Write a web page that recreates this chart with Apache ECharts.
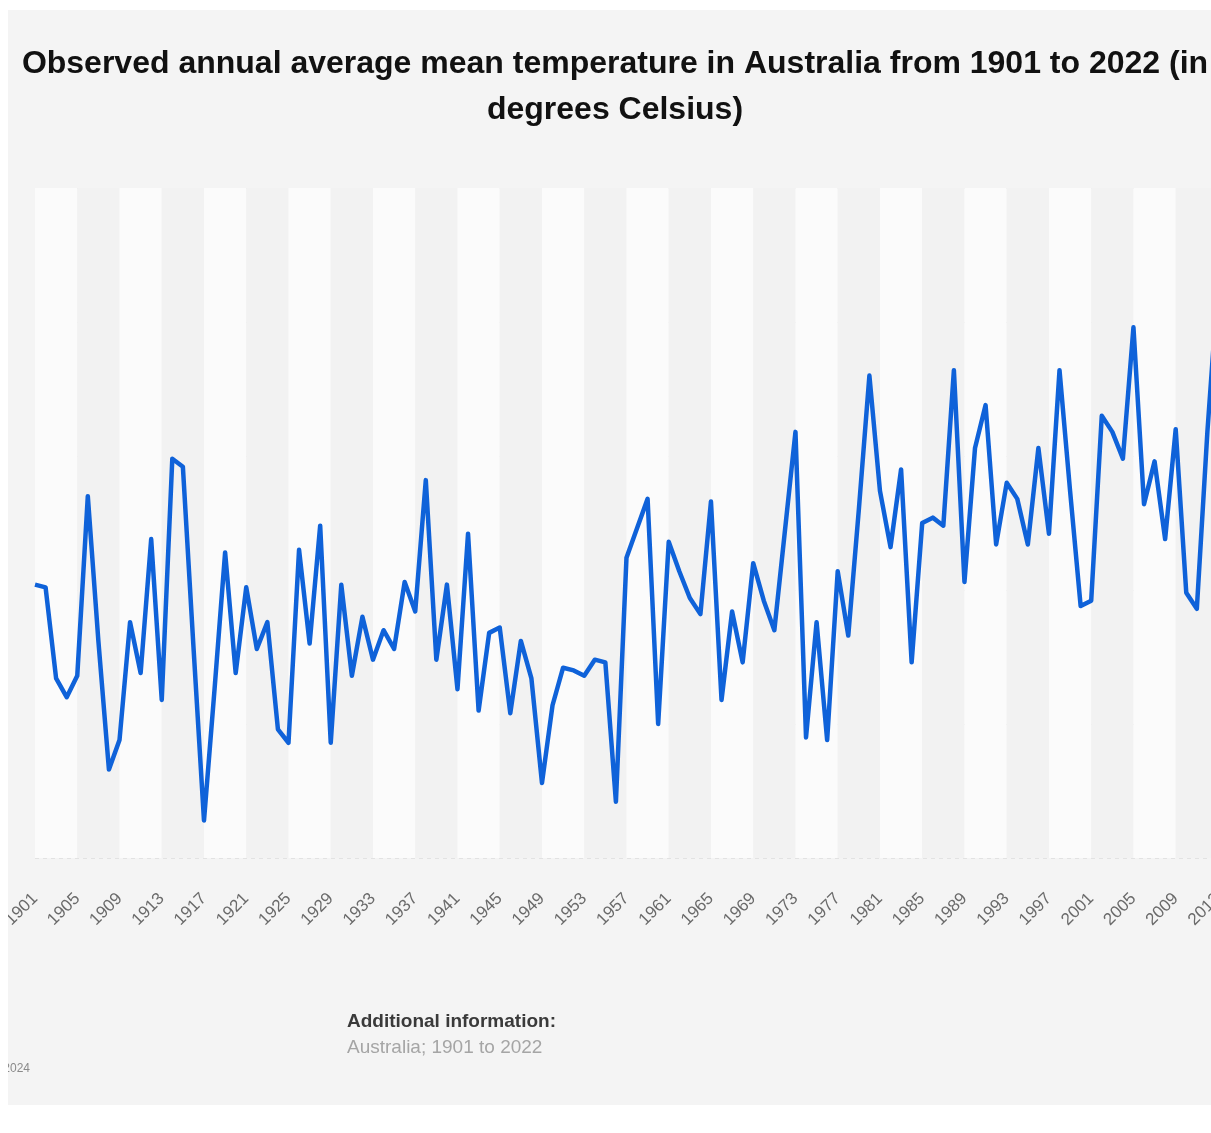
<!DOCTYPE html>
<html>
<head>
<meta charset="utf-8">
<title>Observed annual average mean temperature in Australia</title>
<script src="https://cdn.jsdelivr.net/npm/echarts@6/dist/echarts.min.js"></script>
<style>
html, body {
  margin: 0;
  padding: 0;
  width: 1211px;
  height: 1133px;
  overflow: hidden;
  background: #ffffff;
}
/* the chart is wider than the window, its right part is cut off like in the picture */
#chart {
  position: absolute;
  left: 8px;
  top: 10px;
  width: 1340px;
  height: 1095px;
  background: #f4f4f4;
}
</style>
</head>
<body>
<div id="chart"></div>
<script>
// x axis categories
const years = [
  "1901", "1902", "1903", "1904", "1905", "1906", "1907", "1908", "1909", "1910",
  "1911", "1912", "1913", "1914", "1915", "1916", "1917", "1918", "1919", "1920",
  "1921", "1922", "1923", "1924", "1925", "1926", "1927", "1928", "1929", "1930",
  "1931", "1932", "1933", "1934", "1935", "1936", "1937", "1938", "1939", "1940",
  "1941", "1942", "1943", "1944", "1945", "1946", "1947", "1948", "1949", "1950",
  "1951", "1952", "1953", "1954", "1955", "1956", "1957", "1958", "1959", "1960",
  "1961", "1962", "1963", "1964", "1965", "1966", "1967", "1968", "1969", "1970",
  "1971", "1972", "1973", "1974", "1975", "1976", "1977", "1978", "1979", "1980",
  "1981", "1982", "1983", "1984", "1985", "1986", "1987", "1988", "1989", "1990",
  "1991", "1992", "1993", "1994", "1995", "1996", "1997", "1998", "1999", "2000",
  "2001", "2002", "2003", "2004", "2005", "2006", "2007", "2008", "2009", "2010",
  "2011", "2012", "2013", "2014", "2015", "2016", "2017", "2018", "2019", "2020",
  "2021", "2022"
];

// annual mean temperature in degrees Celsius
const temps = [
  21.52, 21.51, 21.17, 21.10, 21.18, 21.85, 21.31, 20.83, 20.94, 21.38, // 1901-1910
  21.19, 21.69, 21.09, 21.99, 21.96, 21.29, 20.64, 21.13, 21.64, 21.19, // 1911-1920
  21.51, 21.28, 21.38, 20.98, 20.93, 21.65, 21.30, 21.74, 20.93, 21.52, // 1921-1930
  21.18, 21.40, 21.24, 21.35, 21.28, 21.53, 21.42, 21.91, 21.24, 21.52, // 1931-1940
  21.13, 21.71, 21.05, 21.34, 21.36, 21.04, 21.31, 21.17, 20.78, 21.07, // 1941-1950
  21.21, 21.20, 21.18, 21.24, 21.23, 20.71, 21.62, 21.73, 21.84, 21.00, // 1951-1960
  21.68, 21.57, 21.47, 21.41, 21.83, 21.09, 21.42, 21.23, 21.60, 21.46, // 1961-1970
  21.35, 21.72, 22.09, 20.95, 21.38, 20.94, 21.57, 21.33, 21.80, 22.30, // 1971-1980
  21.87, 21.66, 21.95, 21.23, 21.75, 21.77, 21.74, 22.32, 21.53, 22.03, // 1981-1990
  22.19, 21.67, 21.90, 21.84, 21.67, 22.03, 21.71, 22.32, 21.87, 21.44, // 1991-2000
  21.46, 22.15, 22.09, 21.99, 22.48, 21.82, 21.98, 21.69, 22.10, 21.49, // 2001-2010
  21.43, 22.09, 22.64, 22.35, 22.27, 22.31, 22.39, 22.58, 22.96, 22.59, // 2011-2020
  22.00, 21.94                                                          // 2021-2022
];

// y axis gridline values
const yTicks = [20.5, 21, 21.5, 22, 22.5, 23];

const titleText =
  "Observed annual average mean temperature in Australia from 1901 to 2022 (in\ndegrees Celsius)";
const infoTitle = "Additional information:";
const infoText = "Australia; 1901 to 2022";

let mychart = echarts.init(document.getElementById("chart"), null, {
  renderer: "canvas"
});

mychart.setOption({
  backgroundColor: "#f4f4f4",
  animation: false,
  title: {
    text: titleText,
    left: 602,
    top: 26,
    textAlign: "center",
    textStyle: {
      fontFamily: "Liberation Sans",
      fontSize: 32,
      fontWeight: "bold",
      color: "#111111",
      lineHeight: 46
    }
  },
  grid: {
    left: 27,
    top: 178,
    width: 1278,
    height: 670,
    containLabel: false,
    outerBoundsMode: "none"
  },
  xAxis: {
    type: "category",
    data: years,
    boundaryGap: false,
    axisLine: { show: false },
    axisTick: { show: false, interval: 3 },
    axisLabel: {
      interval: 3,
      rotate: 45,
      margin: 38,
      color: "#6a6a6a",
      fontFamily: "Liberation Sans",
      fontSize: 17
    },
    splitLine: { show: false },
    splitArea: {
      show: true,
      interval: 3,
      areaStyle: { color: ["#fbfbfb", "#f2f2f2"] }
    }
  },
  yAxis: {
    type: "value",
    min: yTicks[0],
    max: yTicks[yTicks.length - 1],
    interval: yTicks[1] - yTicks[0],
    axisLine: { show: false },
    axisTick: { show: false },
    axisLabel: { show: false },
    splitLine: {
      show: true,
      lineStyle: { color: "#e2e2e2", type: [4, 4], width: 1 }
    }
  },
  series: [
    {
      name: "Temperature",
      type: "line",
      data: temps,
      showSymbol: false,
      smooth: false,
      color: "#0f62d9",
      lineStyle: { width: 4.5, color: "#0f62d9", join: "round" }
    }
  ],
  graphic: [
    {
      type: "text",
      x: 339,
      y: 1002,
      style: {
        text: infoTitle,
        font: "bold 19px 'Liberation Sans'",
        fill: "#3a3a3a"
      }
    },
    {
      type: "text",
      x: 339,
      y: 1028,
      style: {
        text: infoText,
        font: "19px 'Liberation Sans'",
        fill: "#a5a5a5"
      }
    },
    {
      // source note, mostly outside the picture on the left
      type: "text",
      x: 22,
      y: 1053,
      style: {
        text: "© Statista 2024",
        align: "right",
        font: "12px 'Liberation Sans'",
        fill: "#8a8a8a"
      }
    }
  ]
});

window.addEventListener("resize", () => {
  mychart.resize();
});
</script>
</body>
</html>
